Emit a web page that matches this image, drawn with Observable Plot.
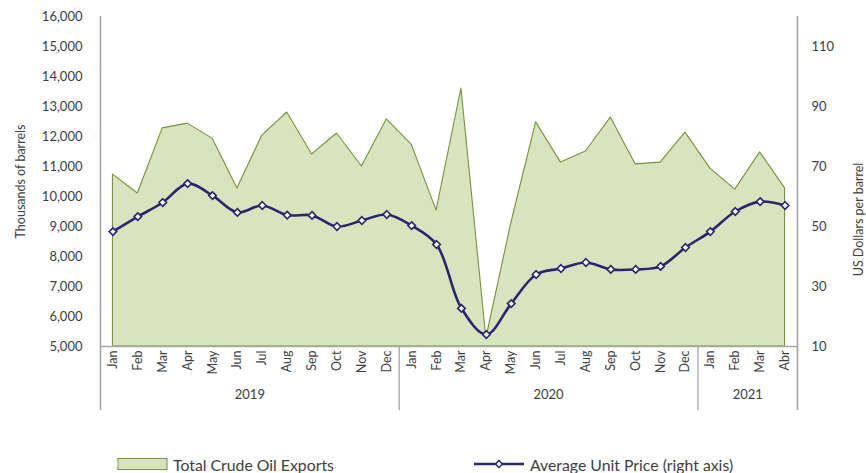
<!DOCTYPE html>
<html>
<head>
<meta charset="utf-8">
<script src="https://cdn.jsdelivr.net/npm/d3@7"></script>
<script src="https://cdn.jsdelivr.net/npm/@observablehq/plot@0.6"></script>
<style>
  html, body { margin: 0; padding: 0; background: #fff; }
  #wrap { position: relative; width: 866px; height: 473px; font-family: Lato, "Open Sans", sans-serif; color: #404040; }
  #chart svg { display: block; }
  .leg { position: absolute; top: 455px; height: 18px; display: flex; align-items: center; font-size: 15.8px; color: #404040; white-space: nowrap; }
</style>
</head>
<body>
<div id="wrap">
  <div id="chart"></div>
  <div class="leg" style="left:117px;">
    <svg width="52" height="14" style="margin-right:4px"><rect x="1" y="1.5" width="49" height="11" fill="#d7e4bd" stroke="#77933c" stroke-width="1"/></svg>
    <span>Total Crude Oil Exports</span>
  </div>
  <div class="leg" style="left:474px;">
    <svg width="52" height="14" style="margin-right:4px"><line x1="0" y1="7" x2="50" y2="7" stroke="#262673" stroke-width="2.5"/><path d="M25,3.5L28.5,7L25,10.5L21.5,7Z" fill="#fff" stroke="#262673" stroke-width="1.5"/></svg>
    <span>Average Unit Price (right axis)</span>
  </div>
</div>
<script>
const months = ["Jan","Feb","Mar","Apr","May","Jun","Jul","Aug","Sep","Oct","Nov","Dec",
                "Jan","Feb","Mar","Apr","May","Jun","Jul","Aug","Sep","Oct","Nov","Dec",
                "Jan","Feb","Mar","Abr"];
const years = ["2019","2020","2021"];
const yearLengths = [12, 12, 4];
// Total crude oil exports, thousands of barrels
const exportsK = [10730,10100,12270,12430,11930,10270,12030,12800,11400,12100,11000,12570,
                  11730,9530,13600,5270,9100,12470,11130,11500,12630,11070,11130,12130,
                  10930,10230,11470,10270];
// Average unit price, US dollars per barrel
const price = [48.3,53.3,58.0,64.3,60.3,54.7,57.0,53.8,53.7,50.0,52.0,54.0,
               50.3,44.0,22.7,14.0,24.3,34.0,36.0,38.0,35.7,35.7,36.7,43.0,
               48.3,55.0,58.3,57.0];
const leftTicks = [5000,6000,7000,8000,9000,10000,11000,12000,13000,14000,15000,16000];
const rightTicks = [10,30,50,70,90,110];

// right axis (10..120) mapped onto left axis (5000..16000)
const toLeft = p => 5000 + (p - 10) * 100;
const fromLeft = v => Math.round((v - 5000) / 100 + 10);

const data = months.map((m, i) => ({i, m, exp: exportsK[i], priceL: toLeft(price[i])}));

// year groups
let start = 0;
const groups = years.map((y, k) => {
  const g = {year: y, start: start - 0.5, end: start + yearLengths[k] - 0.5, mid: start + (yearLengths[k] - 1) / 2};
  start += yearLengths[k];
  return g;
});
const outerBounds = [groups[0].start, groups[groups.length - 1].end];
const innerBounds = groups.slice(0, -1).map(g => g.end);

const W = 866, H = 446, mL = 100, mR = 69, mT = 16, mB = 100;
const innerH = H - mT - mB;
const grey = "#a6a6a6";
const txt = "#404040";

const plot = Plot.plot({
  width: W, height: H,
  marginLeft: mL, marginRight: mR, marginTop: mT, marginBottom: mB,
  style: {fontFamily: "Lato, 'Open Sans', sans-serif", color: txt, background: "#fff"},
  x: {type: "linear", domain: [-0.5, months.length - 0.5]},
  y: {domain: [5000, 16000]},
  marks: [
    Plot.areaY(data, {x: "i", y1: 5000, y2: "exp", fill: "#d7e4bd", stroke: "#77933c", strokeWidth: 1.1}),
    Plot.line(data, {x: "i", y: "priceL", stroke: "#262673", strokeWidth: 2.6, curve: "catmull-rom"}),
    Plot.dot(data, {x: "i", y: "priceL", symbol: "diamond2", r: 3.4, fill: "#fff", stroke: "#262673", strokeWidth: 1.6}),
    // axis lines
    Plot.ruleY([5000], {stroke: grey, strokeWidth: 1.6}),
    Plot.ruleX(outerBounds, {stroke: grey, strokeWidth: 1.6, insetBottom: -64}),
    Plot.ruleX(innerBounds, {stroke: grey, strokeWidth: 1.3, insetTop: innerH, insetBottom: -64}),
    // axes
    Plot.axisY(leftTicks, {anchor: "left", tickSize: 0, tickPadding: 18, tickFormat: d3.format(","), fontSize: 13, label: null, color: txt}),
    Plot.axisY(rightTicks.map(toLeft), {anchor: "right", tickSize: 0, tickPadding: 14, tickFormat: fromLeft, fontSize: 13, label: null, color: txt}),
    Plot.axisX(d3.range(months.length), {anchor: "bottom", tickSize: 0, tickPadding: 4, tickRotate: -90, tickFormat: i => months[i], fontSize: 12.5, label: null, color: txt}),
    // year labels
    Plot.text(groups, {x: "mid", text: "year", frameAnchor: "bottom", dy: 52, fontSize: 13, fill: txt}),
    // axis titles
    Plot.text(["Thousands of barrels"], {frameAnchor: "left", textAnchor: "middle", dx: -80, rotate: -90, fontSize: 12.5, fill: txt}),
    Plot.text(["US Dollars per barrel"], {frameAnchor: "right", textAnchor: "middle", dx: 61, dy: 38, rotate: -90, fontSize: 12.5, fill: txt})
  ]
});
document.getElementById("chart").appendChild(plot);
</script>
</body>
</html>
